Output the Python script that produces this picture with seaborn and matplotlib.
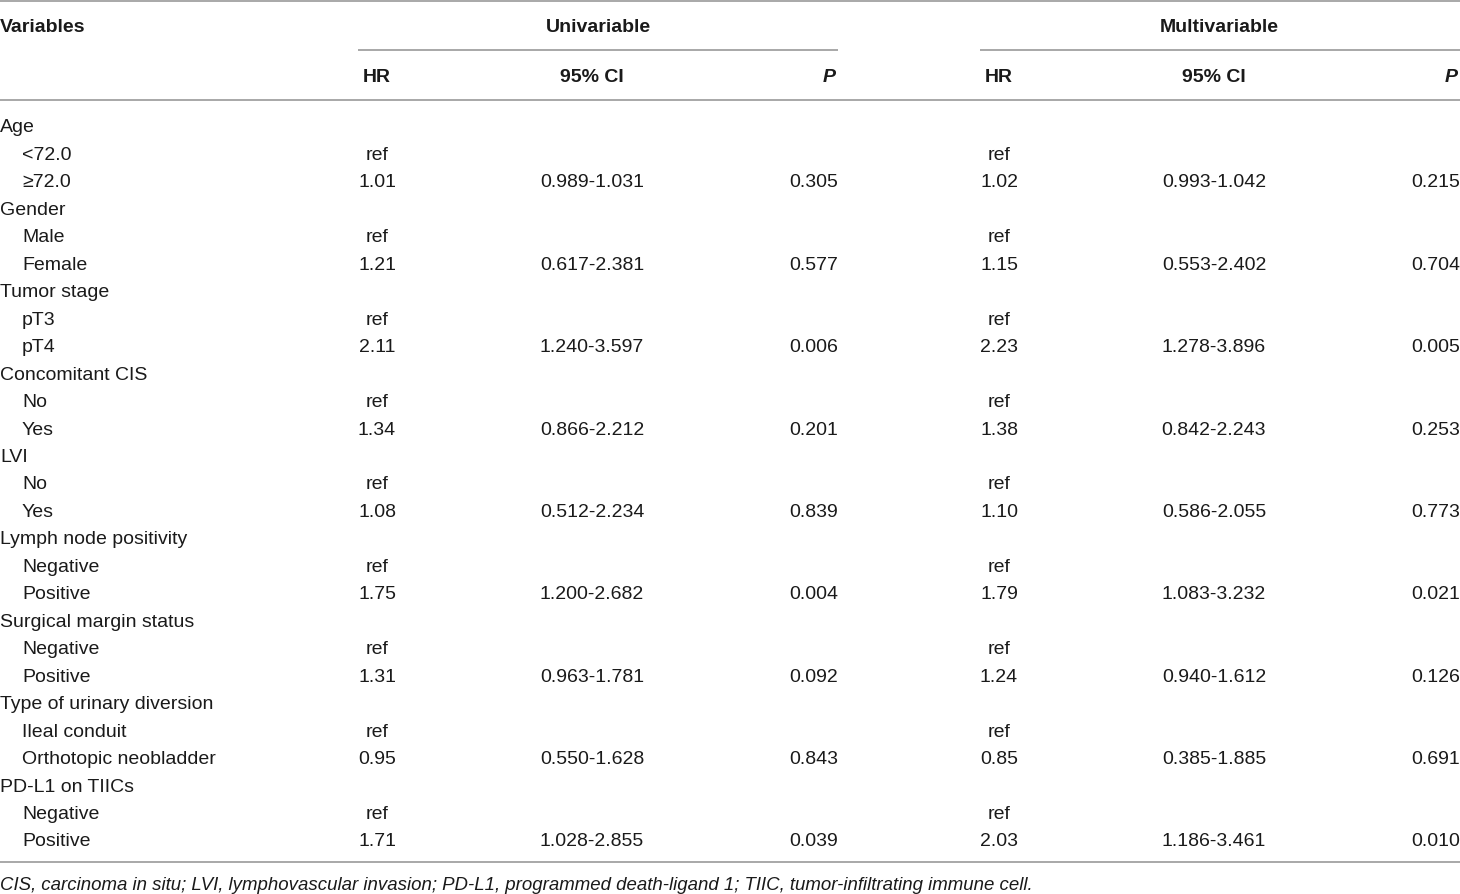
import numpy as np
import pandas as pd
import matplotlib
matplotlib.use("Agg")
import matplotlib.pyplot as plt
import seaborn as sns

# table content
groups = ["Age", "Gender", "Tumor stage", "Concomitant CIS", "LVI",
          "Lymph node positivity", "Surgical margin status",
          "Type of urinary diversion", "PD-L1 on TIICs"]
ref_levels = ["<72.0", "Male", "pT3", "No", "No", "Negative", "Negative",
              "Ileal conduit", "Negative"]
cmp_levels = ["\u226572.0", "Female", "pT4", "Yes", "Yes", "Positive", "Positive",
              "Orthotopic neobladder", "Positive"]

uni_hr = [1.01, 1.21, 2.11, 1.34, 1.08, 1.75, 1.31, 0.95, 1.71]
uni_lo = [0.989, 0.617, 1.240, 0.866, 0.512, 1.200, 0.963, 0.550, 1.028]
uni_hi = [1.031, 2.381, 3.597, 2.212, 2.234, 2.682, 1.781, 1.628, 2.855]
uni_p = [0.305, 0.577, 0.006, 0.201, 0.839, 0.004, 0.092, 0.843, 0.039]

multi_hr = [1.02, 1.15, 2.23, 1.38, 1.10, 1.79, 1.24, 0.85, 2.03]
multi_lo = [0.993, 0.553, 1.278, 0.842, 0.586, 1.083, 0.940, 0.385, 1.186]
multi_hi = [1.042, 2.402, 3.896, 2.243, 2.055, 3.232, 1.612, 1.885, 3.461]
multi_p = [0.215, 0.704, 0.005, 0.253, 0.773, 0.021, 0.126, 0.691, 0.010]

footnote = ("CIS, carcinoma in situ; LVI, lymphovascular invasion; PD-L1, programmed "
            "death-ligand 1; TIIC, tumor-infiltrating immune cell.")

# build the row table
rows = []
for i, g in enumerate(groups):
    rows.append({"label": g, "indent": False, "u_hr": "", "u_ci": "", "u_p": "",
                 "m_hr": "", "m_ci": "", "m_p": ""})
    rows.append({"label": ref_levels[i], "indent": True, "u_hr": "ref", "u_ci": "",
                 "u_p": "", "m_hr": "ref", "m_ci": "", "m_p": ""})
    rows.append({"label": cmp_levels[i], "indent": True,
                 "u_hr": f"{uni_hr[i]:.2f}", "u_ci": f"{uni_lo[i]:.3f}-{uni_hi[i]:.3f}",
                 "u_p": f"{uni_p[i]:.3f}",
                 "m_hr": f"{multi_hr[i]:.2f}", "m_ci": f"{multi_lo[i]:.3f}-{multi_hi[i]:.3f}",
                 "m_p": f"{multi_p[i]:.3f}"})
df = pd.DataFrame(rows)

sns.set_theme(style="white")
plt.rcParams["font.family"] = ["Liberation Sans", "DejaVu Sans"]
txt_color = "#1a1a1a"
line_color = "#9a9a9a"
fs = 14

fig = plt.figure(figsize=(14.6, 8.94), dpi=100)
ax = fig.add_axes([0, 0, 1, 1])
ax.set_xlim(0, 1460)
ax.set_ylim(894, 0)
ax.axis("off")

# rules
ax.hlines(1, 0, 1460, color=line_color, lw=1.2)
ax.hlines(50, 358, 838, color=line_color, lw=1.2)
ax.hlines(50, 980, 1460, color=line_color, lw=1.2)
ax.hlines(100, 0, 1460, color=line_color, lw=1.2)
ax.hlines(862, 0, 1460, color=line_color, lw=1.2)

# headers
ax.text(0, 28, "Variables", ha="left", va="center", fontsize=fs, fontweight="bold", color=txt_color)
ax.text(598, 28, "Univariable", ha="center", va="center", fontsize=fs, fontweight="bold", color=txt_color)
ax.text(1219, 28, "Multivariable", ha="center", va="center", fontsize=fs, fontweight="bold", color=txt_color)

cols = [("u_hr", 377, "center"), ("u_ci", 592, "center"), ("u_p", 838, "right"),
        ("m_hr", 999, "center"), ("m_ci", 1214, "center"), ("m_p", 1460, "right")]
head_names = {"u_hr": "HR", "u_ci": "95% CI", "u_p": "P",
              "m_hr": "HR", "m_ci": "95% CI", "m_p": "P"}
for key, x, ha in cols:
    style = "italic" if head_names[key] == "P" else "normal"
    ax.text(x - (2 if ha == "right" else 0), 77, head_names[key], ha=ha, va="center",
            fontsize=fs, fontweight="bold", fontstyle=style, color=txt_color)

# body rows
y0, dy = 128, 27.46
for r, row in df.iterrows():
    y = y0 + r * dy
    ax.text(22 if row["indent"] else 0, y, row["label"], ha="left", va="center",
            fontsize=fs, color=txt_color)
    for key, x, ha in cols:
        if row[key]:
            ax.text(x, y, row[key], ha=ha, va="center", fontsize=fs, color=txt_color)

ax.text(0, 885, footnote, ha="left", va="center", fontsize=13.4, fontstyle="italic", color=txt_color)

fig.savefig("out.png", dpi=100)
